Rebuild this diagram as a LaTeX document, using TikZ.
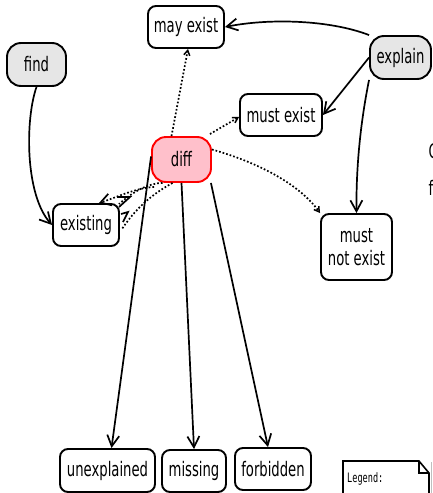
\documentclass[tikz,border=0pt]{standalone}
\usepackage{fontspec}
\setmainfont[FakeStretch=0.66]{DejaVu Sans}
\newfontfamily\legfont[FakeStretch=0.66]{DejaVu Sans Mono}
\usetikzlibrary{arrows.meta}
\definecolor{statefill}{HTML}{E6E6E6}
\definecolor{difffill}{HTML}{FFC0CB}
\begin{document}
\begin{tikzpicture}[x=1pt,y=-1pt,
  box/.style={draw=black, line width=1.9pt, rounded corners=8pt, inner sep=0pt,
              font=\fontsize{20}{23}\selectfont, align=center},
  statebox/.style={box, rounded corners=14pt, fill=statefill},
  diffbox/.style={box, rounded corners=14pt, fill=difffill, draw=red},
  rel/.style={line width=1.7pt, -{Straight Barb[length=11pt,width=12pt]}},
  dep/.style={dotted, line width=1.7pt, -{Straight Barb[length=5pt,width=6pt,line width=1.5pt]}},
  bigdep/.style={dotted, line width=1.7pt, -{Straight Barb[length=10pt,width=12pt,line width=1.7pt]}},
  plaindep/.style={dotted, line width=1.7pt},
  barb/.style={line width=1.7pt, line join=miter}
]
\useasboundingbox (0,0) rectangle (432,493);

\node[box, minimum width=76pt, minimum height=42pt] (mayexist) at (186,27) {may exist};
\node[statebox, minimum width=59pt, minimum height=43pt] (find) at (36.5,64.5) {find};
\node[statebox, minimum width=61pt, minimum height=43pt] (explain) at (400.5,57.5) {explain};
\node[box, minimum width=82pt, minimum height=42pt] (mustexist) at (281,115) {must exist};
\node[diffbox, minimum width=59pt, minimum height=45pt] (diff) at (181.5,159.5) {diff};
\node[box, minimum width=66pt, minimum height=42pt] (existing) at (86,225) {existing};
\node[box, minimum width=71pt, minimum height=66pt] (mustnot) at (356.5,247) {must\\not exist};
\node[box, minimum width=95pt, minimum height=43pt] (unexplained) at (107.5,470.5) {unexplained};
\node[box, minimum width=64pt, minimum height=42pt] (missing) at (194,471) {missing};
\node[box, minimum width=76pt, minimum height=42pt] (forbidden) at (273,469) {forbidden};

% partial texts cut by the right edge
\node[anchor=west, inner sep=0pt, font=\fontsize{20}{23}\selectfont] (cutA) at (428.5,151) {C};
\node[anchor=west, inner sep=0pt, font=\fontsize{20}{23}\selectfont] (cutB) at (428.5,188) {f};

% legend note
\draw[line width=1.6pt] (343,461) -- (419,461) -- (429,473) -- (429,496) -- (343,496) -- cycle;
\draw[line width=1.6pt] (419,461) -- (419,473) -- (429,473);
\draw[gray!50, line width=0.8pt] (431.5,462) -- (431.5,493);
\node[anchor=west, inner sep=0pt, font=\legfont\fontsize{13}{15}\selectfont] (legend) at (347,479) {Legend:};

% solid relations
\draw[rel] (explain.north west) .. controls (330,20) and (270,18) .. (mayexist.east);
\draw[rel] (explain.west) -- (mustexist.east);
\draw[rel] (explain.south west) .. controls (362,115) and (356,160) .. (mustnot.north);
\draw[rel] (find.south) .. controls (25,120) and (25,195) .. (existing.west);
\draw[rel] ([yshift=3pt]diff.west) -- ([xshift=4pt]unexplained.north);
\draw[rel] (diff.south) -- (missing.north);
\draw[rel] ([xshift=-1pt]diff.south east) -- ([xshift=-5pt]forbidden.north);

% dotted dependencies
\draw[dep] ([xshift=-10pt]diff.north) -- ([xshift=2pt]mayexist.south);
\draw[dep] ([xshift=-2pt,yshift=2pt]diff.north east) -- ([yshift=-2pt]mustexist.west);
\draw[dep] ([yshift=10pt]diff.east) .. controls (260,163) and (300,185) .. (mustnot.north west);
\draw[bigdep] ([xshift=3pt,yshift=-4pt]diff.south west) .. controls (135,188) and (115,198) .. ([xshift=-21pt]existing.north east);
\draw[plaindep] ([xshift=-19pt]diff.south) .. controls (150,183) and (135,190) .. ([xshift=-1pt,yshift=-1pt]existing.north east);
\draw[plaindep] ([xshift=-9pt]diff.south) .. controls (160,190) and (140,202) .. ([xshift=2pt,yshift=-4pt]existing.east);
% arrowheads of the two lines above, pointing towards diff
\draw[barb] (117,197) -- (130,197) -- (119,207);
\draw[barb] (121,214) -- (128,212) -- (123,222);
\end{tikzpicture}
\end{document}
